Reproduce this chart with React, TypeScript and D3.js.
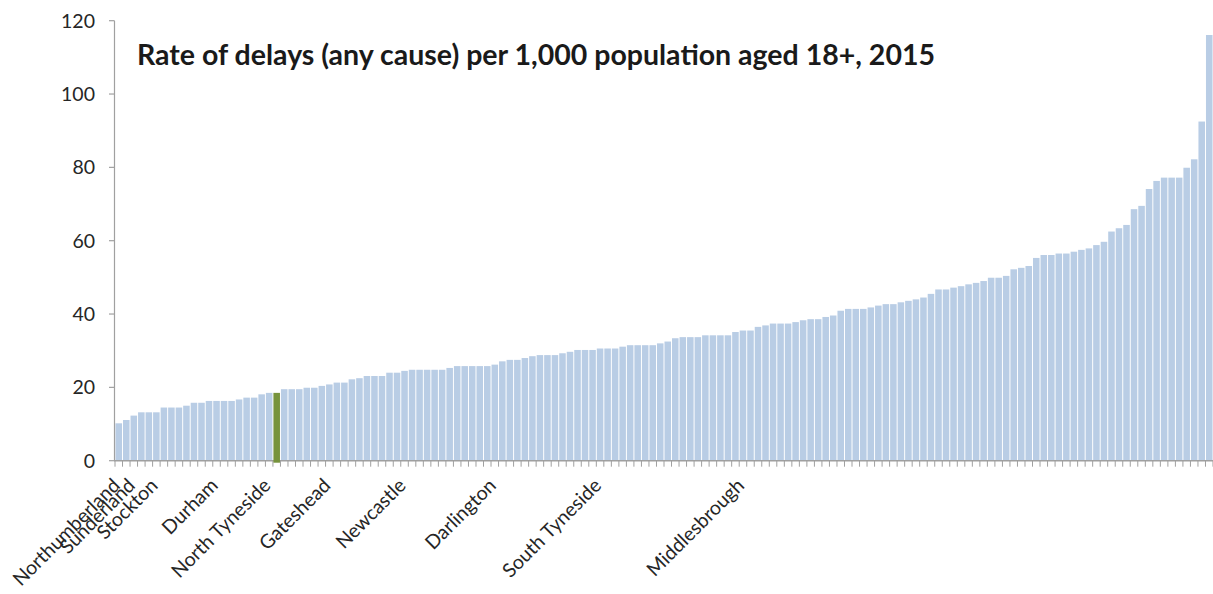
import * as d3 from "d3";

// Rate of delays per 1,000 population aged 18+, one value per local authority, sorted ascending
const rates = [
  10.2, 11.1, 12.3, 13.2, 13.2, 13.2, 14.5, 14.5, 14.5, 15.0,
  15.8, 15.8, 16.3, 16.3, 16.3, 16.3, 16.7, 17.2, 17.2, 18.1,
  18.5, 18.5, 19.5, 19.5, 19.5, 19.9, 19.9, 20.4, 20.8, 21.3,
  21.3, 22.2, 22.5, 23.1, 23.1, 23.1, 24.0, 24.0, 24.5, 24.8,
  24.8, 24.8, 24.8, 24.8, 25.3, 25.8, 25.8, 25.8, 25.8, 25.8,
  26.2, 27.1, 27.5, 27.5, 28.0, 28.5, 28.8, 28.8, 28.8, 29.3,
  29.7, 30.2, 30.2, 30.2, 30.6, 30.6, 30.6, 31.1, 31.5, 31.5,
  31.5, 31.5, 32.0, 32.5, 33.4, 33.7, 33.7, 33.7, 34.2, 34.2,
  34.2, 34.2, 35.1, 35.5, 35.5, 36.5, 36.9, 37.4, 37.4, 37.4,
  37.8, 38.3, 38.6, 38.6, 39.2, 39.6, 40.9, 41.4, 41.4, 41.4,
  41.8, 42.3, 42.7, 42.7, 43.2, 43.6, 44.0, 44.5, 45.5, 46.7,
  46.7, 47.2, 47.6, 48.1, 48.5, 49.0, 49.9, 49.9, 50.4, 52.2,
  52.6, 53.1, 55.3, 56.1, 56.1, 56.5, 56.5, 57.0, 57.5, 57.9,
  58.8, 59.7, 62.5, 63.4, 64.3, 68.6, 69.5, 74.1, 76.3, 77.2,
  77.2, 77.2, 79.9, 82.2, 92.5, 116.1,
];

// only the North East authorities carry a label (position in the sorted list)
const labelNames = [
  "Northumberland", "Sunderland", "Stockton", "Durham", "North Tyneside",
  "Gateshead", "Newcastle", "Darlington", "South Tyneside", "Middlesbrough",
];
const labelRanks = [1, 3, 6, 14, 21, 29, 39, 51, 65, 84];

const highlighted = "North Tyneside";
const yTicks = [0, 20, 40, 60, 80, 100, 120];
const title = "Rate of delays (any cause) per 1,000 population aged 18+, 2015";

const width = 1213;
const height = 594;
const marginLeft = 115;
const marginTop = 20.7;
const axisY = 460.7;

const barColor = "#b9cde5";
const highlightColor = "#77933c";
const axisColor = "#a0a0a0";
const textColor = "#262626";
const font = "Lato, 'Open Sans', sans-serif";

export default function App() {
  const x = d3
    .scaleBand<number>()
    .domain(d3.range(rates.length))
    .range([marginLeft, width])
    .paddingInner(0.13)
    .paddingOuter(0.065);

  const y = d3.scaleLinear().domain([0, 120]).range([axisY, marginTop]);

  const gap = (x.step() - x.bandwidth()) / 2;
  const highlightRank = labelRanks[labelNames.indexOf(highlighted)];

  return (
    <svg
      width={width}
      height={height}
      style={{ position: "absolute", left: 0, top: 0, background: "#fff" }}
      fontFamily={font}
    >
      {/* bars */}
      <g>
        {rates.map((d, i) =>
          i === highlightRank ? null : (
            <rect
              key={i}
              x={x(i)}
              y={y(d)}
              width={x.bandwidth()}
              height={y(0) - y(d)}
              fill={barColor}
            />
          )
        )}
      </g>

      {/* y axis */}
      <g>
        <line
          x1={marginLeft - 0.5}
          x2={marginLeft - 0.5}
          y1={y(120)}
          y2={y(0)}
          stroke={axisColor}
          strokeWidth={1.2}
        />
        {yTicks.map((t) => (
          <g key={t} transform={`translate(0,${y(t)})`}>
            <line
              x1={marginLeft - 6}
              x2={marginLeft - 0.5}
              stroke={axisColor}
              strokeWidth={1.2}
            />
            <text
              x={95}
              dy="0.35em"
              textAnchor="end"
              fontSize={19.5}
              fill={textColor}
            >
              {t}
            </text>
          </g>
        ))}
      </g>

      {/* x axis */}
      <g>
        <line
          x1={marginLeft - 1}
          x2={width}
          y1={y(0)}
          y2={y(0)}
          stroke={axisColor}
          strokeWidth={1.5}
        />
        {d3.range(rates.length + 1).map((i) => {
          const bx = (i < rates.length ? x(i)! : x(i - 1)! + x.step()) - gap;
          return (
            <line
              key={i}
              x1={bx}
              x2={bx}
              y1={y(0)}
              y2={y(0) + 6}
              stroke={axisColor}
              strokeWidth={1}
            />
          );
        })}
      </g>

      {/* highlighted authority drawn over the axis */}
      <rect
        x={x(highlightRank)}
        y={y(rates[highlightRank])}
        width={x.bandwidth()}
        height={y(0) - y(rates[highlightRank]) + 2}
        fill={highlightColor}
      />

      {/* category labels */}
      <g>
        {labelNames.map((name, k) => {
          const cx = x(labelRanks[k])! + x.bandwidth() / 2 - 5;
          return (
            <text
              key={name}
              transform={`translate(${cx},${y(0) + 26}) rotate(-45)`}
              textAnchor="end"
              fontSize={19.5}
              fill={textColor}
            >
              {name}
            </text>
          );
        })}
      </g>

      <text
        x={137}
        y={65}
        fontSize={28.5}
        fontWeight="bold"
        fill="#1a1a1a"
      >
        {title}
      </text>
    </svg>
  );
}
